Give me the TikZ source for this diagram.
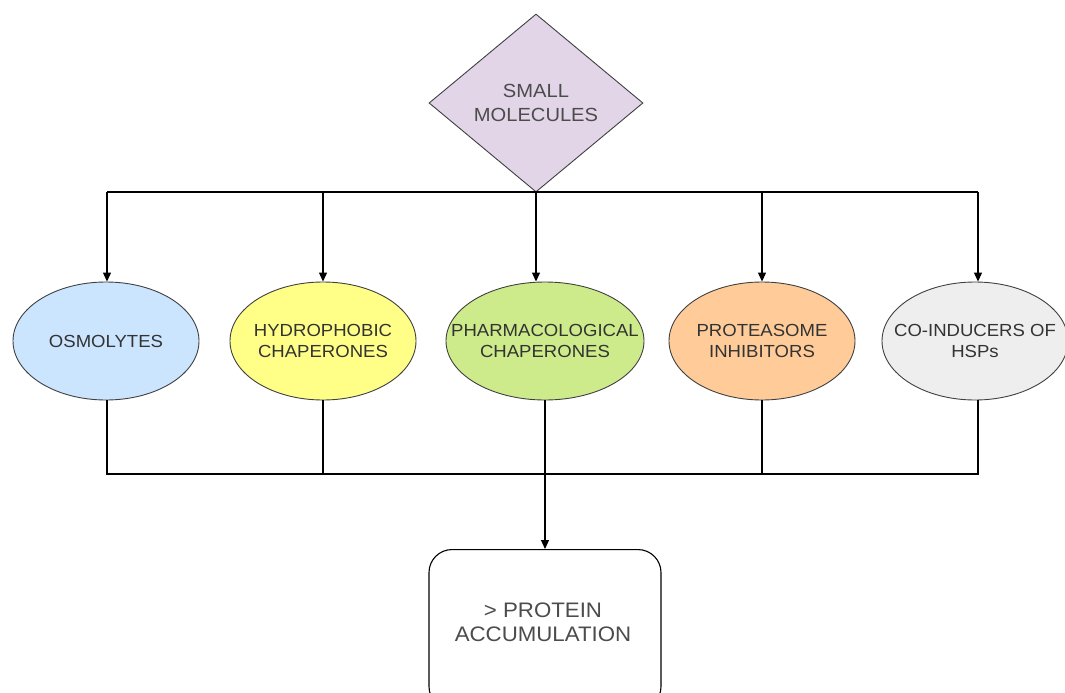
\documentclass[tikz,border=0pt]{standalone}
\usepackage{fontspec}
\setmainfont{Liberation Sans}[FakeStretch=1.06]
\usetikzlibrary{shapes.geometric,arrows.meta}
\definecolor{dfill}{HTML}{E1D5E7}
\definecolor{bluef}{HTML}{CCE5FF}
\definecolor{yelf}{HTML}{FFFF88}
\definecolor{grnf}{HTML}{CDEB8B}
\definecolor{orgf}{HTML}{FFCC99}
\definecolor{gryf}{HTML}{EEEEEE}
\definecolor{txt}{HTML}{333333}
\tikzset{
  ell/.style={ellipse, draw=black!75, line width=0.9pt, minimum width=186pt, minimum height=118pt, inner xsep=-40pt, inner ysep=0pt, align=center, font=\fontsize{17.5}{21}\selectfont, text=txt},
  conn/.style={line width=1.1pt, draw=black},
  arr/.style={conn, -{Triangle[length=9pt,width=8pt]}},
}
\begin{document}
\begin{tikzpicture}[x=1pt,y=-1pt]
\useasboundingbox[fill=white] (0,0) rectangle (1065,693);
% diamond
\node[diamond, draw=black!75, fill=dfill, line width=0.9pt, minimum width=214pt, minimum height=178pt, inner sep=0pt, align=center, font=\fontsize{19}{24}\selectfont, text=black!70] (sm) at (536,103) {SMALL\\MOLECULES};
% ellipses
\node[ell, fill=bluef] (os) at (106,341) {OSMOLYTES};
\node[ell, fill=yelf] (hy) at (323,341) {HYDROPHOBIC\\CHAPERONES};
\node[ell, fill=grnf, minimum width=198pt] (ph) at (545,341) {PHARMACOLOGICAL\\CHAPERONES};
\node[ell, fill=orgf] (pr) at (762,341) {PROTEASOME\\INHIBITORS};
\node[ell, fill=gryf] (co) at (975,341) {CO-INDUCERS OF\\HSPs};
% bottom box
\node[draw=black, line width=1.1pt, rounded corners=23pt, minimum width=232pt, minimum height=160pt, anchor=north] (pa) at (545,549) {};
\node[align=center, font=\fontsize{21}{24}\selectfont, text=black!70] (patext) at (543,622) {> PROTEIN\\ACCUMULATION};
% top distribution
\coordinate (tl) at (107,192);
\coordinate (tr) at (978,192);
\draw[conn] (tl) -- (tr);
\draw[arr] (tl) -- (os.north -| tl);
\draw[arr] (323,192) -- (hy.north);
\draw[arr] (sm.south) -- (sm.south |- ph.north);
\draw[arr] (762,192) -- (pr.north);
\draw[arr] (tr) -- (co.north -| tr);
% bottom collection
\coordinate (bl) at (107,474);
\coordinate (br) at (978,474);
\draw[conn] (os.south -| bl) -- (bl) -- (br) -- (co.south -| br);
\draw[conn] (hy.south) -- (hy.south |- bl);
\draw[conn] (pr.south) -- (pr.south |- bl);
\draw[arr] (ph.south) -- (pa.north);
\end{tikzpicture}
\end{document}
